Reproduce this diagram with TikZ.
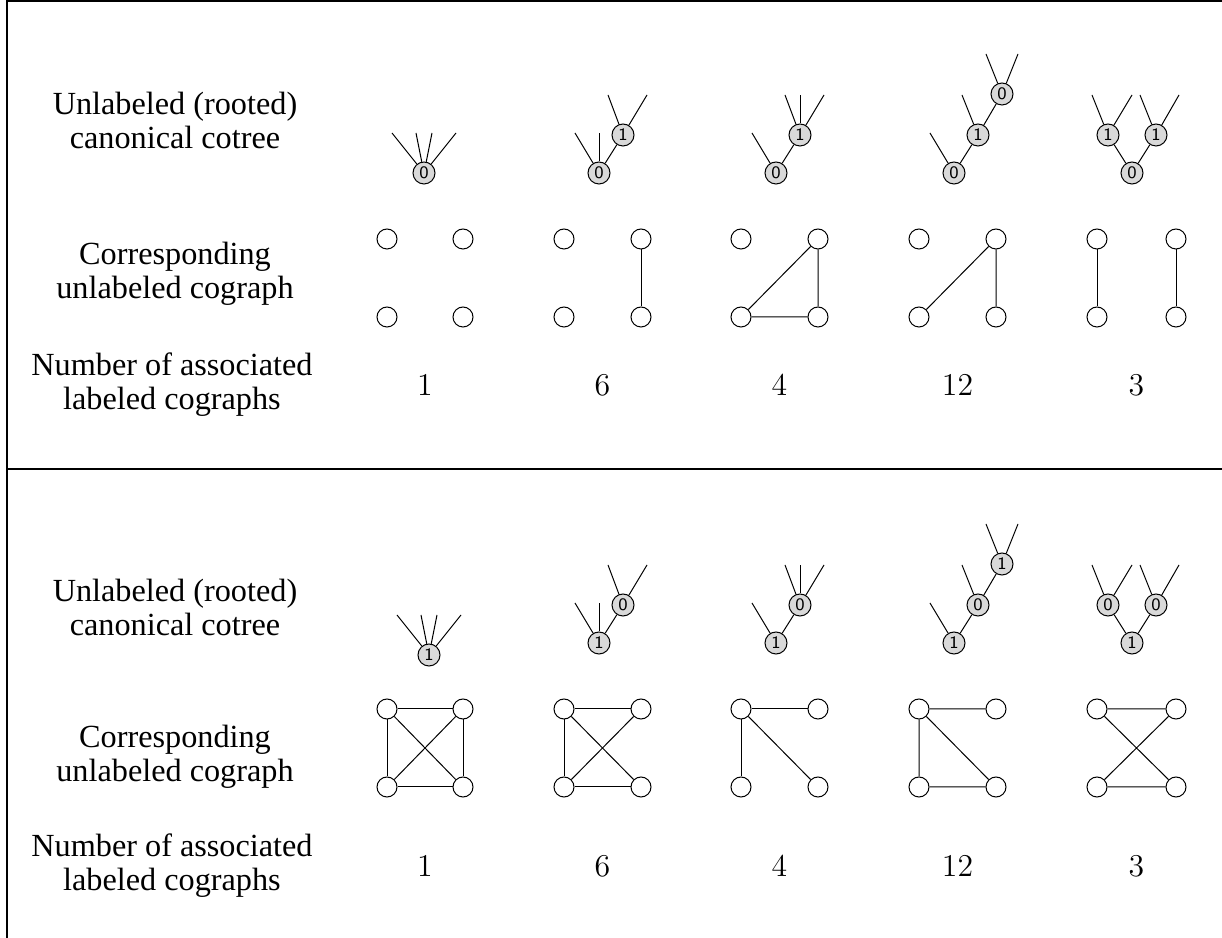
\documentclass[tikz,border=0pt]{standalone}
\usepackage{fontspec}
\newfontfamily\labelfont{Liberation Serif}
\begin{document}
\begin{tikzpicture}[x=0.4pt,y=-0.4pt,
  cotree/.style={circle,draw,fill=gray!30,minimum size=8.8pt,inner sep=0pt,font=\sffamily\fontsize{7}{7}\selectfont},
  vertex/.style={circle,draw,fill=white,minimum size=8pt,inner sep=0pt},
  rowlabel/.style={align=center,font=\labelfont\fontsize{12.9}{13.6}\selectfont},
  count/.style={font=\fontsize{12.7}{13.6}\selectfont},
  frame/.style={line width=0.8pt}]

  \useasboundingbox (0,0) rectangle (1222,938);

  % outline of the two tables
  \draw[frame] (7,938) -- (7,1) -- (1222,1);
  \draw[frame] (7,469) -- (1222,469);

  \foreach \s/\z/\o/\ry/\cx/\cy/\gt/\gb/\lt/\lm/\lb in
    {a/0/1/173/424/173/239/317/120/274/385,
     b/1/0/643/429/655/709/787/607/757/866}{
    % row labels
    \node[rowlabel](\s lab1) at (175,\lt) {Unlabeled (rooted)\\canonical cotree};
    \node[rowlabel](\s lab2) at (175,\lm) {Corresponding\\unlabeled cograph};
    \node[rowlabel](\s lab3) at (172,\lb) {Number of associated\\labeled cographs};

    % cotrees
    \node[cotree](\s t1r) at (\cx,\cy) {\z};
    \foreach \d in {-32,-8,8,32} \draw (\s t1r) -- ++(\d,-40);

    \node[cotree](\s t2r) at (599,\ry) {\z};
    \node[cotree](\s t2c) at (623,\ry-38) {\o};
    \draw (\s t2r) -- (\s t2c);
    \draw (\s t2r) -- ++(-24,-40);
    \draw (\s t2r) -- ++(0,-40);
    \draw (\s t2c) -- ++(-15,-40);
    \draw (\s t2c) -- ++(24,-40);

    \node[cotree](\s t3r) at (776,\ry) {\z};
    \node[cotree](\s t3c) at (800,\ry-38) {\o};
    \draw (\s t3r) -- (\s t3c);
    \draw (\s t3r) -- ++(-24,-40);
    \draw (\s t3c) -- ++(-15,-40);
    \draw (\s t3c) -- ++(0,-40);
    \draw (\s t3c) -- ++(24,-40);

    \node[cotree](\s t4r) at (954,\ry) {\z};
    \node[cotree](\s t4c) at (978,\ry-38) {\o};
    \node[cotree](\s t4g) at (1002,\ry-79) {\z};
    \draw (\s t4r) -- (\s t4c) -- (\s t4g);
    \draw (\s t4r) -- ++(-24,-40);
    \draw (\s t4c) -- ++(-16,-40);
    \draw (\s t4g) -- ++(-16,-40);
    \draw (\s t4g) -- ++(16,-40);

    \node[cotree](\s t5r) at (1132,\ry) {\z};
    \node[cotree](\s t5l) at (1108,\ry-38) {\o};
    \node[cotree](\s t5m) at (1156,\ry-38) {\o};
    \draw (\s t5l) -- (\s t5r) -- (\s t5m);
    \draw (\s t5l) -- ++(-16,-40);
    \draw (\s t5l) -- ++(24,-40);
    \draw (\s t5m) -- ++(-16,-40);
    \draw (\s t5m) -- ++(23,-40);

    % cograph vertices and counts
    \foreach \c/\l/\r/\n in {1/387/463/1, 2/564/641/6, 3/741/818/4, 4/919/996/12, 5/1097/1176/3}{
      \node[vertex](\s g\c tl) at (\l,\gt) {};
      \node[vertex](\s g\c tr) at (\r,\gt) {};
      \node[vertex](\s g\c bl) at (\l,\gb) {};
      \node[vertex](\s g\c br) at (\r,\gb) {};
      \node[count](\s n\c) at ({(\l+\r)/2},\lb) {\n};
    }
  }

  % edges of the cographs, first table
  \draw (ag2tr) -- (ag2br);
  \draw (ag3tr) -- (ag3bl) -- (ag3br) -- (ag3tr);
  \draw (ag4bl) -- (ag4tr) -- (ag4br);
  \draw (ag5tl) -- (ag5bl);
  \draw (ag5tr) -- (ag5br);

  % edges of the cographs, second table
  \draw (bg1tl) -- (bg1tr) -- (bg1br) -- (bg1bl) -- (bg1tl);
  \draw (bg1tl) -- (bg1br);
  \draw (bg1tr) -- (bg1bl);
  \draw (bg2tr) -- (bg2tl) -- (bg2bl) -- (bg2br);
  \draw (bg2tl) -- (bg2br);
  \draw (bg2tr) -- (bg2bl);
  \draw (bg3tr) -- (bg3tl) -- (bg3bl);
  \draw (bg3tl) -- (bg3br);
  \draw (bg4tr) -- (bg4tl) -- (bg4bl) -- (bg4br) -- (bg4tl);
  \draw (bg5tl) -- (bg5tr) -- (bg5bl) -- (bg5br) -- (bg5tl);
\end{tikzpicture}
\end{document}
